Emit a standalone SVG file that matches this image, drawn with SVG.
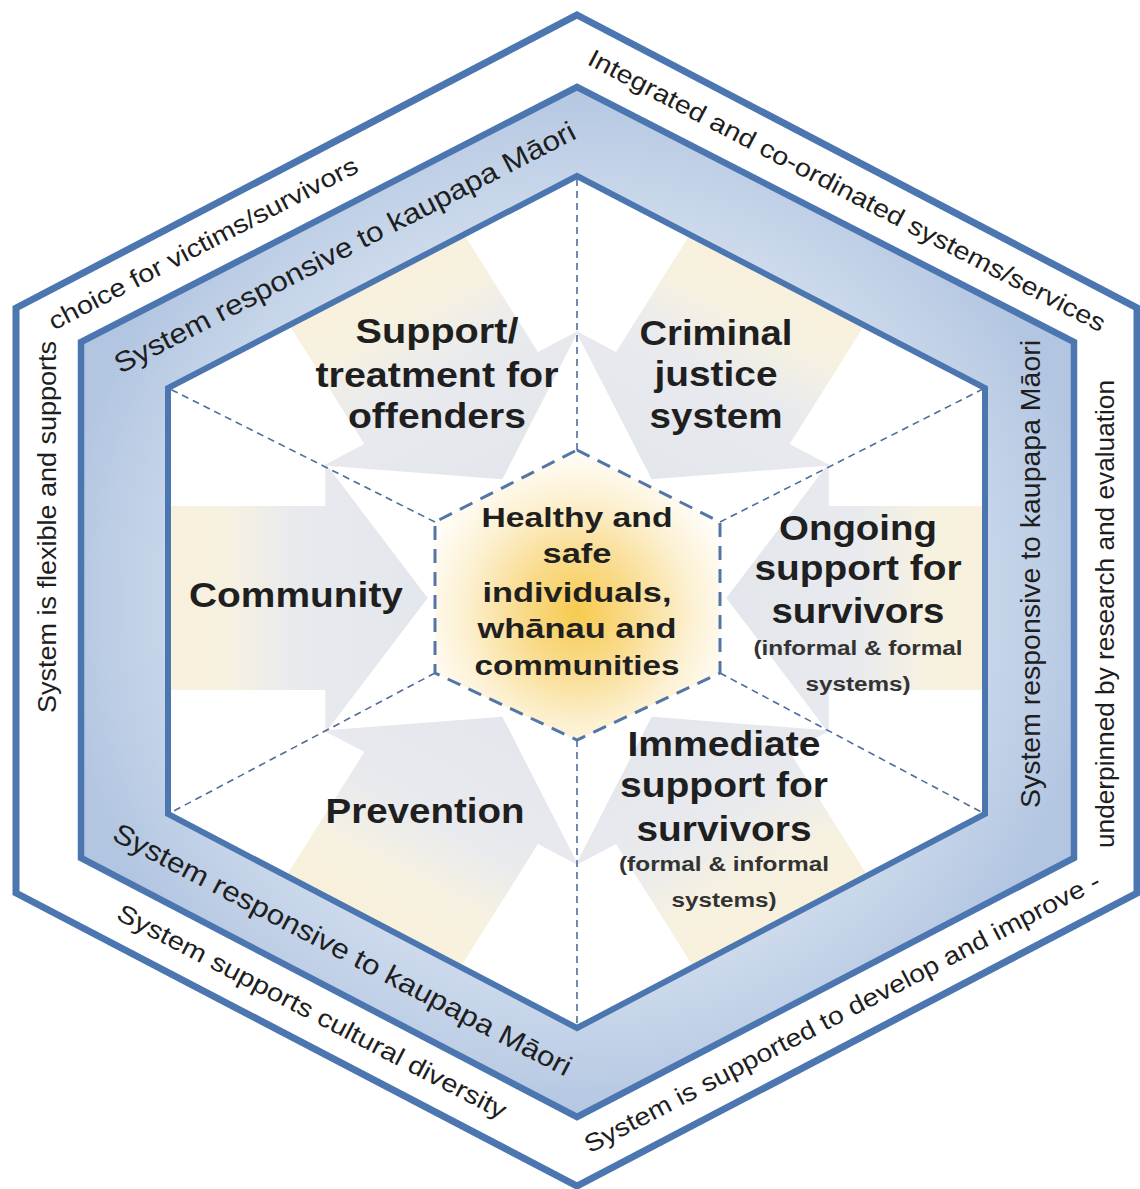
<svg xmlns="http://www.w3.org/2000/svg" width="1140" height="1189" viewBox="0 0 1140 1189">
<defs>
<style>
.hex{stroke:#4b76b0;stroke-linejoin:miter}
.lbl{font-family:"Liberation Sans",Arial,sans-serif;font-weight:bold;fill:#1f1f1f;text-anchor:middle}
.big{font-size:35px}
.sm{font-size:20px;fill:#333333}
.ctr{font-size:28px}
.ring{font-family:"Liberation Sans",Arial,sans-serif;font-size:25px;fill:#1e1e1e;text-anchor:middle}
.band{font-size:28px}
.spoke{stroke:#4e6d9a;stroke-width:1.6;stroke-dasharray:7 5;fill:none}
.chex{fill:url(#core);stroke:#5476a6;stroke-width:3;stroke-dasharray:14 9}
</style>
<linearGradient id="arr" gradientUnits="userSpaceOnUse" x1="-420" y1="0" x2="-137" y2="0">
<stop offset="0" stop-color="#f8f0d6"/>
<stop offset="0.35" stop-color="#f7f1e1"/>
<stop offset="0.58" stop-color="#e8eaee"/>
<stop offset="1" stop-color="#e3e6ec"/>
</linearGradient>
<radialGradient id="bandg" gradientUnits="userSpaceOnUse" cx="577" cy="601" r="560">
<stop offset="0.68" stop-color="#cddaec"/>
<stop offset="0.93" stop-color="#b3c6e1"/>
</radialGradient>
<radialGradient id="core" gradientUnits="userSpaceOnUse" cx="577" cy="612" r="160">
<stop offset="0" stop-color="#f7cb50"/>
<stop offset="0.35" stop-color="#f9db8c"/>
<stop offset="0.7" stop-color="#fcf0d0"/>
<stop offset="1" stop-color="#fffdf8"/>
</radialGradient>
<clipPath id="innerClip"><polygon points="577,176 985,388 985,814 577,1028 168,814 168,388"/></clipPath>
<path id="arrow" d="M-420,-92 L-231,-92 L-231,-135 L-137,0 L-231,135 L-231,92 L-420,92 Z" fill="url(#arr)"/>
</defs>

<rect width="1140" height="1189" fill="#ffffff"/>

<g id="outer-ring">
<polygon class="hex" points="577,15 1137,308 1137,893 577,1186 16,893 16,308" fill="#ffffff" stroke-width="7"/>
</g>
<g id="band">
<polygon class="hex" points="577,87 1074,342 1074,858 577,1117 81,858 81,342" fill="url(#bandg)" stroke-width="6.5"/>
</g>
<g id="inner-area">
<polygon points="577,176 985,388 985,814 577,1028 168,814 168,388" fill="#ffffff"/>
<g clip-path="url(#innerClip)">
<g transform="translate(577,598) scale(1.09,1)">
<use href="#arrow"/>
<use href="#arrow" transform="rotate(60)"/>
<use href="#arrow" transform="rotate(120)"/>
<use href="#arrow" transform="rotate(180)"/>
<use href="#arrow" transform="rotate(240)"/>
<use href="#arrow" transform="rotate(300)"/>
</g>
</g>
</g>

<g id="connectors">
<line class="spoke" x1="577" y1="450" x2="577" y2="176"/>
<line class="spoke" x1="720" y1="522" x2="985" y2="388"/>
<line class="spoke" x1="720" y1="673" x2="985" y2="814"/>
<line class="spoke" x1="577" y1="740" x2="577" y2="1028"/>
<line class="spoke" x1="435" y1="673" x2="168" y2="814"/>
<line class="spoke" x1="435" y1="522" x2="168" y2="388"/>
</g>

<g id="inner-border">
<polygon class="hex" points="577,176 985,388 985,814 577,1028 168,814 168,388" fill="none" stroke-width="6"/>
</g>

<g id="node-centre">
<polygon class="chex" points="577,450 720,522 720,673 577,740 435,673 435,522"/>
<text class="lbl ctr" x="577" y="527" textLength="191" lengthAdjust="spacingAndGlyphs">Healthy and</text>
<text class="lbl ctr" x="577" y="563" textLength="69" lengthAdjust="spacingAndGlyphs">safe</text>
<text class="lbl ctr" x="577" y="602" textLength="189" lengthAdjust="spacingAndGlyphs">individuals,</text>
<text class="lbl ctr" x="577" y="638" textLength="199" lengthAdjust="spacingAndGlyphs">whānau and</text>
<text class="lbl ctr" x="577" y="675" textLength="205" lengthAdjust="spacingAndGlyphs">communities</text>
</g>

<g id="node-support-offenders">
<text class="lbl big" x="437" y="343" textLength="163" lengthAdjust="spacingAndGlyphs">Support/</text>
<text class="lbl big" x="437" y="387" textLength="243" lengthAdjust="spacingAndGlyphs">treatment for</text>
<text class="lbl big" x="437" y="428" textLength="178" lengthAdjust="spacingAndGlyphs">offenders</text>
</g>

<g id="node-criminal-justice">
<text class="lbl big" x="716" y="345" textLength="153" lengthAdjust="spacingAndGlyphs">Criminal</text>
<text class="lbl big" x="716" y="386" textLength="123" lengthAdjust="spacingAndGlyphs">justice</text>
<text class="lbl big" x="716" y="428" textLength="133" lengthAdjust="spacingAndGlyphs">system</text>
</g>

<g id="node-community">
<text class="lbl big" x="296" y="607" textLength="214" lengthAdjust="spacingAndGlyphs">Community</text>
</g>

<g id="node-ongoing">
<text class="lbl big" x="858" y="540" textLength="158" lengthAdjust="spacingAndGlyphs">Ongoing</text>
<text class="lbl big" x="858" y="580" textLength="207" lengthAdjust="spacingAndGlyphs">support for</text>
<text class="lbl big" x="858" y="623" textLength="173" lengthAdjust="spacingAndGlyphs">survivors</text>
<text class="lbl sm" x="858" y="655" textLength="209" lengthAdjust="spacingAndGlyphs">(informal &amp; formal</text>
<text class="lbl sm" x="858" y="691" textLength="105" lengthAdjust="spacingAndGlyphs">systems)</text>
</g>

<g id="node-immediate">
<text class="lbl big" x="724" y="756" textLength="193" lengthAdjust="spacingAndGlyphs">Immediate</text>
<text class="lbl big" x="724" y="797" textLength="208" lengthAdjust="spacingAndGlyphs">support for</text>
<text class="lbl big" x="724" y="841" textLength="175" lengthAdjust="spacingAndGlyphs">survivors</text>
<text class="lbl sm" x="724" y="871" textLength="210" lengthAdjust="spacingAndGlyphs">(formal &amp; informal</text>
<text class="lbl sm" x="724" y="907" textLength="105" lengthAdjust="spacingAndGlyphs">systems)</text>
</g>

<g id="node-prevention">
<text class="lbl big" x="425" y="823" textLength="199" lengthAdjust="spacingAndGlyphs">Prevention</text>
</g>

<g id="ring-texts">
<text class="ring" transform="translate(843,198) rotate(27.6)" textLength="580" lengthAdjust="spacingAndGlyphs">Integrated and co-ordinated systems/services</text>
<text class="ring" transform="translate(207,251) rotate(-27.5)" textLength="345" lengthAdjust="spacingAndGlyphs">choice for victims/survivors</text>
<text class="ring" transform="translate(56,527) rotate(-90)" textLength="372" lengthAdjust="spacingAndGlyphs">System is flexible and supports</text>
<text class="ring" transform="translate(308,1019) rotate(27.5)" textLength="435" lengthAdjust="spacingAndGlyphs">System supports cultural diversity</text>
<text class="ring" transform="translate(846,1020) rotate(-27.5)" textLength="578" lengthAdjust="spacingAndGlyphs">System is supported to develop and improve -</text>
<text class="ring" transform="translate(1114,614) rotate(-90)" textLength="468" lengthAdjust="spacingAndGlyphs">underpinned by research and evaluation</text>
</g>

<g id="band-texts">
<text class="ring band" transform="translate(349,256) rotate(-27.3)" textLength="515" lengthAdjust="spacingAndGlyphs">System responsive to kaupapa Māori</text>
<text class="ring band" transform="translate(1040,574) rotate(-90)" textLength="468" lengthAdjust="spacingAndGlyphs">System responsive to kaupapa Māori</text>
<text class="ring band" transform="translate(338,958) rotate(27.6)" textLength="513" lengthAdjust="spacingAndGlyphs">System responsive to kaupapa Māori</text>
</g>
</svg>
